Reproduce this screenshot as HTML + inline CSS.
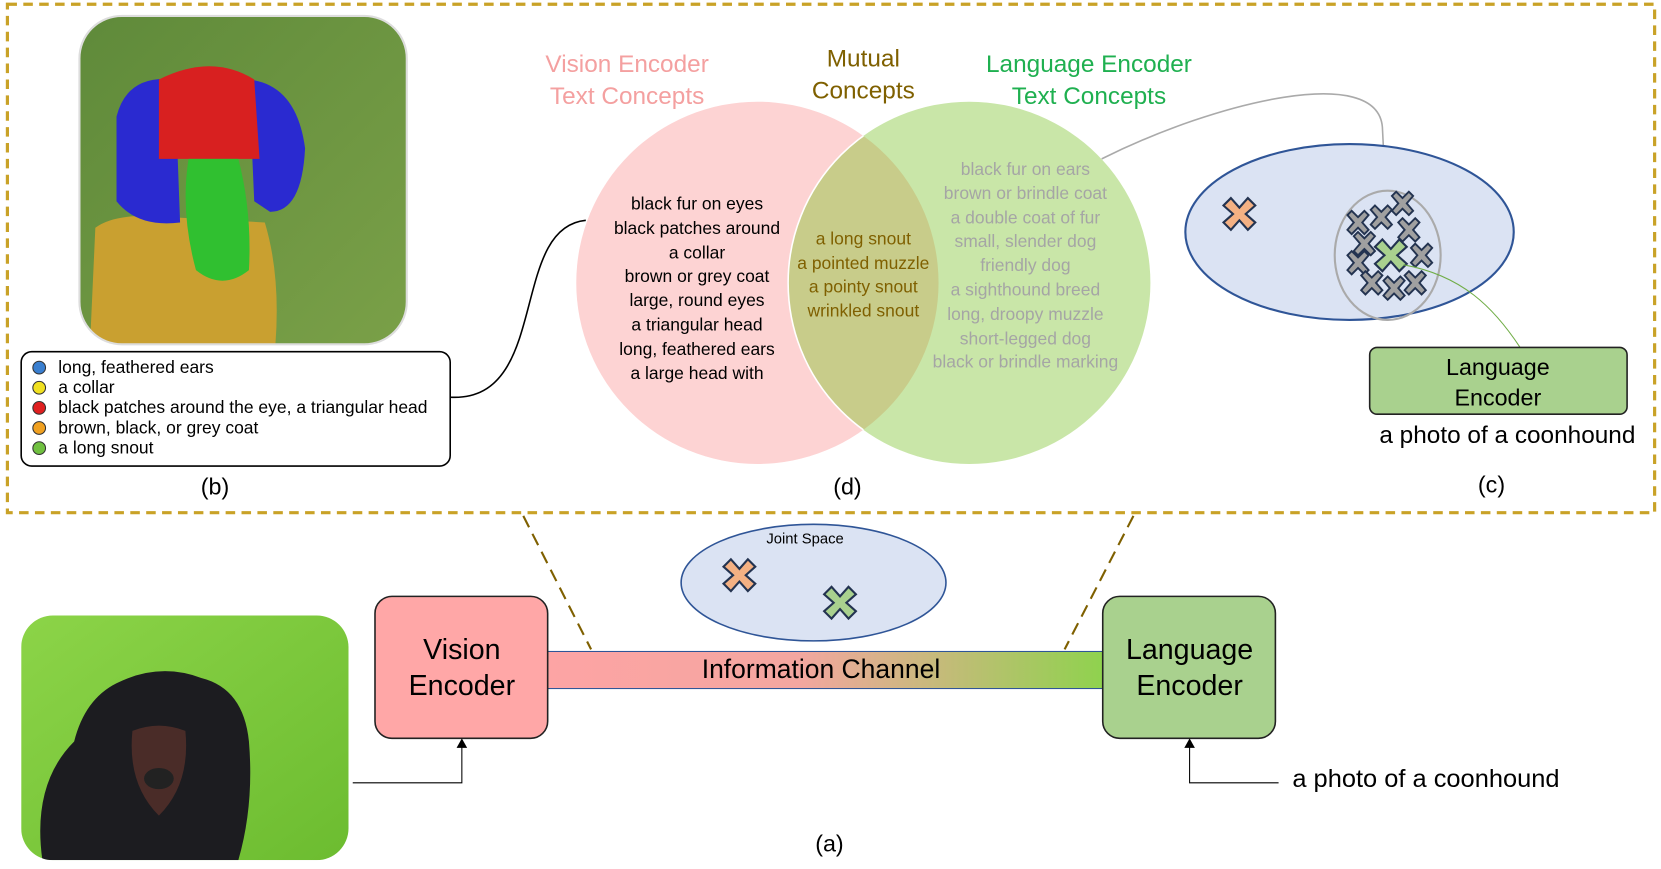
<!DOCTYPE html>
<html><head><meta charset="utf-8"><style>
html,body{margin:0;padding:0;background:#fff;width:1661px;height:869px;overflow:hidden}
#w{position:absolute;left:0;top:0;width:1568px;height:820px;transform:scale(1.0593);transform-origin:0 0;font-family:"Liberation Sans",sans-serif}
.t{position:absolute;white-space:nowrap}
.c{transform:translateX(-50%);text-align:center}
</style></head><body><div id="w">
<svg width="1568" height="820" style="position:absolute;left:0;top:0">
<defs>
<linearGradient id="ch" x1="0" x2="1"><stop offset="0" stop-color="#fda4a4"/><stop offset=".45" stop-color="#f4a6a0"/><stop offset="1" stop-color="#8fd24e"/></linearGradient>
<linearGradient id="grass" x1="0" y1="0" x2="1" y2="1"><stop offset="0" stop-color="#5f8a3a"/><stop offset="1" stop-color="#7aa048"/></linearGradient>
<linearGradient id="grass2" x1="0" y1="0" x2="1" y2="1"><stop offset="0" stop-color="#8cd448"/><stop offset="1" stop-color="#6cbc30"/></linearGradient>
<clipPath id="c1"><rect x="75" y="15" width="309" height="310" rx="40"/></clipPath>
<clipPath id="c2"><rect x="20" y="581" width="309" height="231" rx="30"/></clipPath>
<g id="x"><path d="M-8,-15 L0,-6 L8,-15 L15,-8 L6,0 L15,8 L8,15 L0,6 L-8,15 L-15,8 L-6,0 L-15,-8Z" stroke="#233350" stroke-width="2"/></g>
<g id="xs"><path d="M-6,-11 L0,-5 L6,-11 L10,-7 L4,0 L10,7 L6,11 L0,5 L-6,11 L-10,7 L-4,0 L-10,-7Z" fill="#a0a0a0" stroke="#233350" stroke-width="1.8"/></g>
</defs>
<rect x="7" y="4" width="1555" height="480" fill="none" stroke="#c9a227" stroke-width="3" stroke-dasharray="9,6"/>
<g clip-path="url(#c1)">
<rect x="75" y="15" width="309" height="310" fill="url(#grass)"/>
<path d="M90,215 Q110,200 160,205 L250,210 Q265,260 260,325 L85,325Z" fill="#c9a030"/>
<path d="M110,110 Q120,70 165,75 L170,210 Q130,215 110,190Z" fill="#2a2ad0"/>
<path d="M235,75 Q280,80 288,140 Q285,200 255,200 L240,190Z" fill="#2a2ad0"/>
<path d="M150,75 Q200,50 240,75 L245,150 Q210,150 180,150 L150,150Z" fill="#d82020"/>
<path d="M178,150 L225,150 Q238,200 235,255 Q210,275 185,255 Q170,200 178,150Z" fill="#30c030"/>
</g>
<rect x="75" y="15" width="309" height="310" rx="40" fill="none" stroke="#ddd" stroke-width="2"/>
<rect x="20" y="332" width="405" height="108" rx="10" fill="#fff" stroke="#000" stroke-width="1.5"/>
<circle cx="37" cy="347" r="6" fill="#3a7fd0" stroke="#333"/>
<circle cx="37" cy="366" r="6" fill="#f0e020" stroke="#333"/>
<circle cx="37" cy="385" r="6" fill="#e02020" stroke="#333"/>
<circle cx="37" cy="404" r="6" fill="#f0a020" stroke="#333"/>
<circle cx="37" cy="423" r="6" fill="#70c040" stroke="#333"/>
<path d="M425,375 C520,380 480,215 553,208" fill="none" stroke="#000" stroke-width="1.5"/>
<circle cx="715" cy="267" r="171" fill="#fdd3d3"/>
<circle cx="915" cy="267" r="171" fill="#c9e6a8"/>
<clipPath id="vc"><circle cx="715" cy="267" r="171"/></clipPath>
<circle cx="915" cy="267" r="171" fill="#c8cc8a" clip-path="url(#vc)"/>
<circle cx="915" cy="267" r="171" fill="none" stroke="#fff" stroke-width="1.5" clip-path="url(#vc)"/>
<path d="M1040,150 C1150,95 1300,60 1305,120 L1308,180" fill="none" stroke="#aaa" stroke-width="1.5"/>
<ellipse cx="1274" cy="219" rx="155" ry="83" fill="#dbe3f3" stroke="#2f5597" stroke-width="2"/>
<ellipse cx="1310" cy="241" rx="50" ry="61" fill="none" stroke="#aaa" stroke-width="2"/>
<use href="#x" x="1170" y="202" fill="#f4b183"/>
<use href="#xs" x="1282" y="210"/><use href="#xs" x="1304" y="205"/><use href="#xs" x="1324" y="192"/><use href="#xs" x="1330" y="217"/><use href="#xs" x="1288" y="230"/><use href="#xs" x="1342" y="241"/><use href="#xs" x="1282" y="248"/><use href="#xs" x="1295" y="267"/><use href="#xs" x="1316" y="272"/><use href="#xs" x="1336" y="267"/>
<use href="#x" x="1313" y="241" fill="#a9d18e"/>
<path d="M1325,250 C1380,260 1410,290 1435,328" fill="none" stroke="#70ad47" stroke-width="1"/>
<rect x="1293" y="328" width="243" height="63" rx="7" fill="#a9d18e" stroke="#222" stroke-width="1.5"/>
<path d="M494,487 L558,613 M1070,487 L1005,613" stroke="#7f6000" stroke-width="2" stroke-dasharray="12,7"/>
<ellipse cx="768" cy="550" rx="125" ry="55" fill="#dbe3f3" stroke="#2f5597" stroke-width="1.5"/>
<use href="#x" x="698" y="543" fill="#f4b183"/>
<use href="#x" x="793" y="569" fill="#a9d18e"/>
<rect x="517" y="615" width="524" height="35" fill="url(#ch)" stroke="#2f5597" stroke-width="1"/>
<rect x="354" y="563" width="163" height="134" rx="16" fill="#ffa7a7" stroke="#222" stroke-width="1.5"/>
<rect x="1041" y="563" width="163" height="134" rx="16" fill="#a9d18e" stroke="#222" stroke-width="1.5"/>
<g clip-path="url(#c2)">
<rect x="20" y="581" width="309" height="231" fill="url(#grass2)"/>
<path d="M40,812 Q30,740 70,700 Q80,660 110,645 Q150,625 190,640 Q230,650 235,700 Q240,760 225,812Z" fill="#1c1c20"/>
<path d="M125,690 Q150,680 175,690 Q180,740 150,770 Q120,740 125,690Z" fill="#4a2c28"/>
<ellipse cx="150" cy="735" rx="14" ry="10" fill="#222"/>
</g>
<path d="M333,739 L436,739 L436,704" fill="none" stroke="#000" stroke-width="1"/>
<path d="M431,706 L436,697 L441,706Z" fill="#000"/>
<path d="M1207,739 L1123,739 L1123,704" fill="none" stroke="#000" stroke-width="1"/>
<path d="M1118,706 L1123,697 L1128,706Z" fill="#000"/>
</svg>
<div class="t" style="left:55px;top:338px;font-size:16.5px;line-height:19px">long, feathered ears<br>a collar<br>black patches around the eye, a triangular head<br>brown, black, or grey coat<br>a long snout</div>
<div class="t c" style="left:203px;top:447px;font-size:22px">(b)</div>
<div class="t c" style="left:800px;top:447px;font-size:22px">(d)</div>
<div class="t c" style="left:1408px;top:445px;font-size:22px">(c)</div>
<div class="t c" style="left:783px;top:784px;font-size:22px">(a)</div>
<div class="t c" style="left:592px;top:45px;font-size:23px;line-height:30px;color:#f4a0a0">Vision Encoder<br>Text Concepts</div>
<div class="t c" style="left:815px;top:40px;font-size:23px;line-height:30px;color:#7f6000">Mutual<br>Concepts</div>
<div class="t c" style="left:1028px;top:45px;font-size:23px;line-height:30px;color:#1fb050">Language Encoder<br>Text Concepts</div>
<div class="t c" style="left:658px;top:182px;font-size:16.5px;line-height:22.8px">black fur on eyes<br>black patches around<br>a collar<br>brown or grey coat<br>large, round eyes<br>a triangular head<br>long, feathered ears<br>a large head with</div>
<div class="t c" style="left:815px;top:215px;font-size:16.5px;line-height:22.7px;color:#7f6000">a long snout<br>a pointed muzzle<br>a pointy snout<br>wrinkled snout</div>
<div class="t c" style="left:968px;top:149px;font-size:16.5px;line-height:22.8px;color:#a5a5a5">black fur on ears<br>brown or brindle coat<br>a double coat of fur<br>small, slender dog<br>friendly dog<br>a sighthound breed<br>long, droopy muzzle<br>short-legged dog<br>black or brindle marking</div>
<div class="t c" style="left:1414px;top:332px;font-size:22px;line-height:29px">Language<br>Encoder</div>
<div class="t c" style="left:1423px;top:397px;font-size:23px">a photo of a coonhound</div>
<div class="t c" style="left:760px;top:500px;font-size:14px">Joint Space</div>
<div class="t c" style="left:436px;top:596px;font-size:27px;line-height:34px">Vision<br>Encoder</div>
<div class="t c" style="left:1123px;top:596px;font-size:27px;line-height:34px">Language<br>Encoder</div>
<div class="t c" style="left:775px;top:618px;font-size:25px">Information Channel</div>
<div class="t" style="left:1220px;top:722px;font-size:24px">a photo of a coonhound</div>
</div></body></html>
